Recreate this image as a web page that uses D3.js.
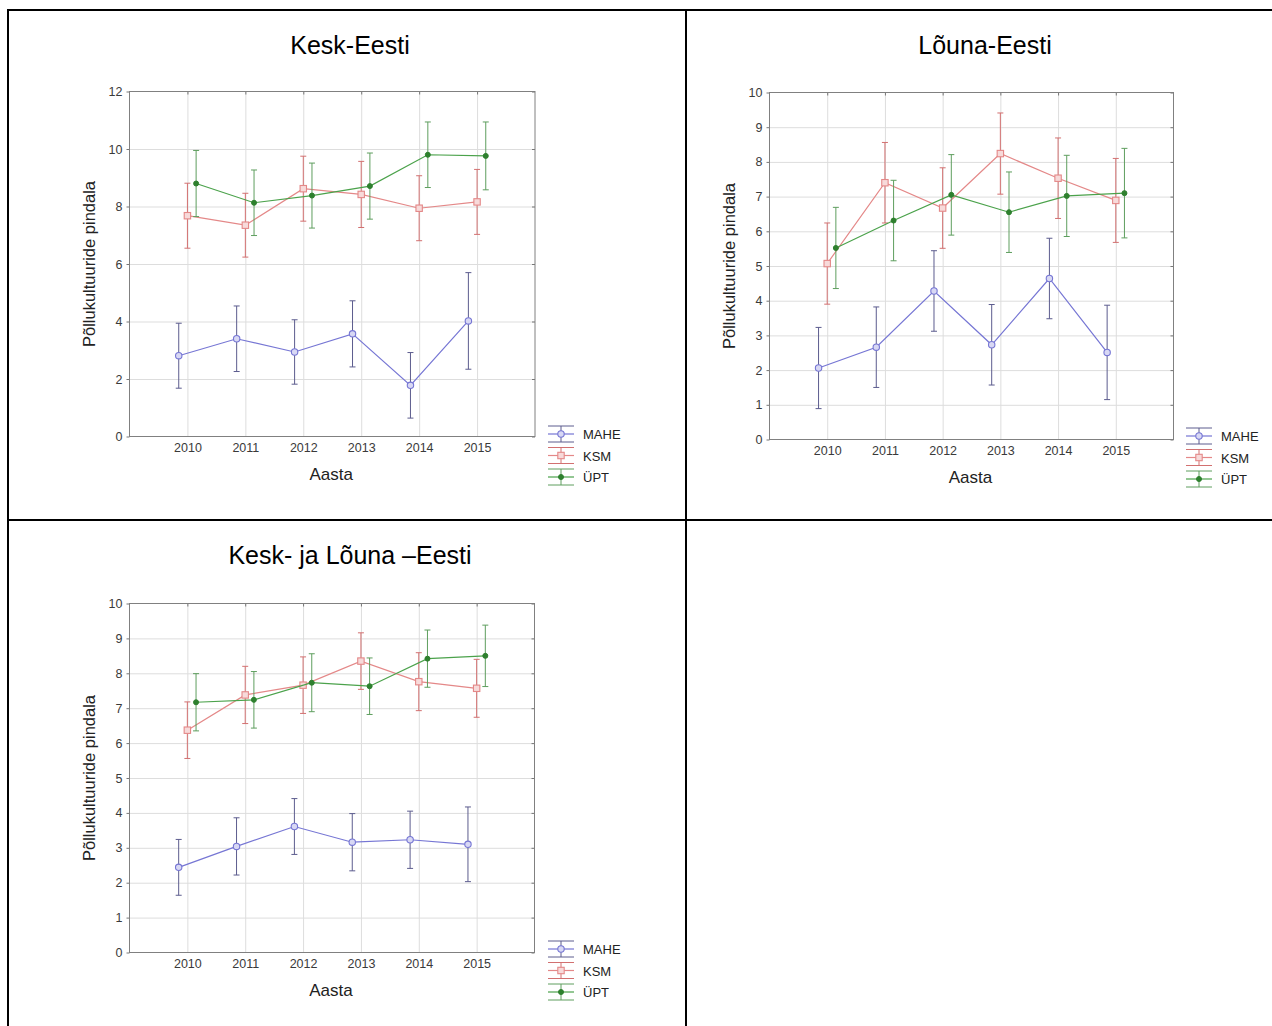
<!DOCTYPE html>
<html>
<head>
<meta charset="utf-8">
<script src="https://cdn.jsdelivr.net/npm/d3@7"></script>
<style>
  body { margin: 0; background: #fff; }
  svg { display: block; font-family: "Liberation Sans", Arial, sans-serif; }
</style>
</head>
<body>
<svg id="chart" width="1272" height="1026"></svg>
<script>
const years = [2010, 2011, 2012, 2013, 2014, 2015];
const seriesNames = ["MAHE", "KSM", "ÜPT"];

// Kesk-Eesti: means and half-width of error bars
const keskMahe = [2.81, 3.40, 2.94, 3.57, 1.78, 4.02];
const keskMaheErr = [1.13, 1.14, 1.12, 1.15, 1.14, 1.68];
const keskKsm = [7.68, 7.35, 8.62, 8.42, 7.94, 8.16];
const keskKsmErr = [1.13, 1.11, 1.13, 1.15, 1.13, 1.13];
const keskUpt = [8.80, 8.13, 8.38, 8.71, 9.80, 9.76];
const keskUptErr = [1.15, 1.14, 1.13, 1.15, 1.14, 1.18];

// Lõuna-Eesti
const lounaMahe = [2.06, 2.66, 4.28, 2.73, 4.64, 2.51];
const lounaMaheErr = [1.17, 1.16, 1.16, 1.16, 1.16, 1.36];
const lounaKsm = [5.07, 7.40, 6.67, 8.24, 7.53, 6.89];
const lounaKsmErr = [1.17, 1.16, 1.16, 1.17, 1.16, 1.21];
const lounaUpt = [5.52, 6.31, 7.05, 6.55, 7.02, 7.10];
const lounaUptErr = [1.17, 1.16, 1.16, 1.16, 1.17, 1.29];

// Kesk- ja Lõuna-Eesti
const koosMahe = [2.44, 3.04, 3.61, 3.16, 3.23, 3.10];
const koosMaheErr = [0.80, 0.82, 0.80, 0.82, 0.82, 1.07];
const koosKsm = [6.37, 7.38, 7.66, 8.35, 7.76, 7.57];
const koosKsmErr = [0.81, 0.82, 0.81, 0.81, 0.83, 0.83];
const koosUpt = [7.17, 7.24, 7.73, 7.63, 8.42, 8.50];
const koosUptErr = [0.82, 0.81, 0.83, 0.81, 0.82, 0.88];

const yTicks12 = [0, 2, 4, 6, 8, 10, 12];
const yTicks10 = [0, 1, 2, 3, 4, 5, 6, 7, 8, 9, 10];

const styles = {
  "MAHE": { line: "#7676d4", err: "#5c5c8e", fill: "#d8d8f4", offset: -0.15, shape: "circle" },
  "KSM":  { line: "#e48888", err: "#d27070", fill: "#f7dada", offset: 0, shape: "square" },
  "ÜPT":  { line: "#4ba24b", err: "#5e9e5e", fill: "#2e802e", offset: 0.15, shape: "dot" }
};

const svg = d3.select("#chart");

// table borders
const border = svg.append("g").attr("stroke", "#000").attr("stroke-width", 2);
border.append("line").attr("x1", 7).attr("x2", 1272).attr("y1", 10).attr("y2", 10);
border.append("line").attr("x1", 8).attr("x2", 8).attr("y1", 9).attr("y2", 1026);
border.append("line").attr("x1", 7).attr("x2", 1272).attr("y1", 520).attr("y2", 520);
border.append("line").attr("x1", 686).attr("x2", 686).attr("y1", 9).attr("y2", 1026);

const panels = [
  { title: "Kesk-Eesti", titleX: 350, titleY: 54, left: 129.5, right: 535, top: 91.5, bottom: 436.5,
    yMax: 12, yTicks: yTicks12, legendX: 548, legendY: 434,
    data: [[keskMahe, keskMaheErr], [keskKsm, keskKsmErr], [keskUpt, keskUptErr]] },
  { title: "Lõuna-Eesti", titleX: 985, titleY: 54, left: 769.5, right: 1173.5, top: 92.5, bottom: 439.5,
    yMax: 10, yTicks: yTicks10, legendX: 1186, legendY: 436,
    data: [[lounaMahe, lounaMaheErr], [lounaKsm, lounaKsmErr], [lounaUpt, lounaUptErr]] },
  { title: "Kesk- ja Lõuna –Eesti", titleX: 350, titleY: 564, left: 129.5, right: 534.5, top: 603.5, bottom: 952.5,
    yMax: 10, yTicks: yTicks10, legendX: 548, legendY: 949,
    data: [[koosMahe, koosMaheErr], [koosKsm, koosKsmErr], [koosUpt, koosUptErr]] }
];

function marker(g, shape, st, cx, cy) {
  if (shape === "circle") {
    g.append("circle").attr("cx", cx).attr("cy", cy).attr("r", 3.2)
      .attr("fill", st.fill).attr("stroke", st.line).attr("stroke-width", 1.1);
  } else if (shape === "square") {
    g.append("rect").attr("x", cx - 3.2).attr("y", cy - 3.2).attr("width", 6.4).attr("height", 6.4)
      .attr("fill", st.fill).attr("stroke", st.line).attr("stroke-width", 1.1);
  } else {
    g.append("circle").attr("cx", cx).attr("cy", cy).attr("r", 2.5)
      .attr("fill", st.fill).attr("stroke", st.fill);
  }
}

panels.forEach(p => {
  const g = svg.append("g");
  const x = d3.scaleLinear().domain([2009, 2016]).range([p.left, p.right]);
  const y = d3.scaleLinear().domain([0, p.yMax]).range([p.bottom, p.top]);
  const w = p.right - p.left, h = p.bottom - p.top;

  g.append("text").attr("x", p.titleX).attr("y", p.titleY)
    .attr("text-anchor", "middle").attr("font-size", 25).attr("fill", "#000").text(p.title);

  // grid
  const gridX = g.append("g").attr("transform", `translate(0,${p.bottom})`)
    .call(d3.axisBottom(x).tickValues(years).tickSize(-h).tickFormat(""));
  gridX.select(".domain").remove();
  gridX.selectAll("line").attr("stroke", "#dddddd");
  const gridY = g.append("g").attr("transform", `translate(${p.left},0)`)
    .call(d3.axisLeft(y).tickValues(p.yTicks.slice(1, -1)).tickSize(-w).tickFormat(""));
  gridY.select(".domain").remove();
  gridY.selectAll("line").attr("stroke", "#dddddd");

  // axes
  const xAxis = g.append("g").attr("transform", `translate(0,${p.bottom})`)
    .call(d3.axisBottom(x).tickValues(years).tickSize(0).tickPadding(7).tickFormat(d3.format("d")));
  xAxis.select(".domain").remove();
  xAxis.selectAll("text").attr("font-size", 12.5).attr("fill", "#3a3a3a")
    .attr("font-family", "'Liberation Sans', Arial, sans-serif");

  const yAxis = g.append("g").attr("transform", `translate(${p.left},0)`)
    .call(d3.axisLeft(y).tickValues(p.yTicks).tickSize(3).tickPadding(4));
  yAxis.select(".domain").remove();
  yAxis.selectAll("line").attr("stroke", "#777");
  yAxis.selectAll("text").attr("font-size", 12.5).attr("fill", "#3a3a3a")
    .attr("font-family", "'Liberation Sans', Arial, sans-serif");

  // small inner ticks on top and right
  const topT = g.append("g").attr("transform", `translate(0,${p.top})`)
    .call(d3.axisTop(x).tickValues(years).tickSize(-3).tickFormat(""));
  topT.select(".domain").remove();
  topT.selectAll("line").attr("stroke", "#777");
  const rightT = g.append("g").attr("transform", `translate(${p.right},0)`)
    .call(d3.axisRight(y).tickValues(p.yTicks).tickSize(-3).tickFormat(""));
  rightT.select(".domain").remove();
  rightT.selectAll("line").attr("stroke", "#777");

  g.append("rect").attr("x", p.left).attr("y", p.top).attr("width", w).attr("height", h)
    .attr("fill", "none").attr("stroke", "#808080").attr("stroke-width", 1);

  // labels
  g.append("text").attr("x", (p.left + p.right) / 2 - 1).attr("y", p.bottom + 43)
    .attr("text-anchor", "middle").attr("font-size", 17).attr("fill", "#222").text("Aasta");
  g.append("text")
    .attr("transform", `translate(${p.left - 35},${(p.top + p.bottom) / 2}) rotate(-90)`)
    .attr("text-anchor", "middle").attr("font-size", 16.5).attr("fill", "#222")
    .text("Põllukultuuride pindala");

  // series
  p.data.forEach(([means, errs], si) => {
    const name = seriesNames[si];
    const st = styles[name];
    const pts = years.map((yr, i) => ({ yr, m: means[i], e: errs[i] }));
    const sg = g.append("g");
    sg.append("path").datum(pts)
      .attr("fill", "none").attr("stroke", st.line).attr("stroke-width", 1.2)
      .attr("d", d3.line().x(d => x(d.yr + st.offset)).y(d => y(d.m)));
    pts.forEach(d => {
      const cx = x(d.yr + st.offset);
      sg.append("line").attr("x1", cx).attr("x2", cx).attr("y1", y(d.m - d.e)).attr("y2", y(d.m + d.e))
        .attr("stroke", st.err).attr("stroke-width", 1);
      [d.m - d.e, d.m + d.e].forEach(v => {
        sg.append("line").attr("x1", cx - 3).attr("x2", cx + 3).attr("y1", y(v)).attr("y2", y(v))
          .attr("stroke", st.err).attr("stroke-width", 1);
      });
    });
    pts.forEach(d => marker(sg, st.shape, st, x(d.yr + st.offset), y(d.m)));
  });

  // legend
  const lg = g.append("g").attr("transform", `translate(${p.legendX},${p.legendY})`);
  seriesNames.forEach((name, i) => {
    const st = styles[name];
    const ly = i * 21.5;
    const e = lg.append("g").attr("transform", `translate(0,${ly})`);
    [-8, 8].forEach(dy => e.append("line").attr("x1", 0).attr("x2", 26).attr("y1", dy).attr("y2", dy)
      .attr("stroke", st.err).attr("stroke-width", 1));
    e.append("line").attr("x1", 13).attr("x2", 13).attr("y1", -8).attr("y2", 8)
      .attr("stroke", st.err).attr("stroke-width", 1);
    e.append("line").attr("x1", 0).attr("x2", 26).attr("y1", 0).attr("y2", 0)
      .attr("stroke", st.line).attr("stroke-width", 1.2);
    marker(e, st.shape, st, 13, 0);
    e.append("text").attr("x", 35).attr("y", 5).attr("font-size", 13).attr("fill", "#222").text(name);
  });
});
</script>
</body>
</html>
